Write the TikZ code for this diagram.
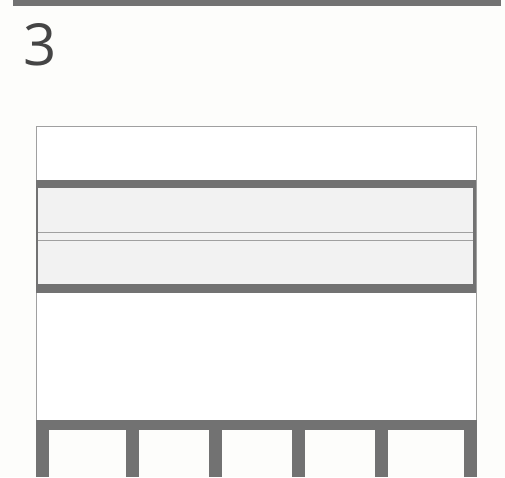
\documentclass[tikz,border=0pt]{standalone}
\usepackage{fontspec}
\setmainfont{Open Sans}
\usepackage{xcolor}
\definecolor{paper}{HTML}{FDFDFB}
\definecolor{beamgray}{HTML}{727272}
\definecolor{panelgray}{HTML}{F2F2F2}
\definecolor{edgegray}{HTML}{A0A0A0}
\definecolor{numgray}{HTML}{454545}

\begin{document}
\begin{tikzpicture}[x=1pt, y=-1pt, beam/.style={fill=beamgray}, thinline/.style={draw=edgegray, line width=1pt}]
  \useasboundingbox (0,0) rectangle (505,477);
  \fill[paper] (0,0) rectangle (505,477);
  % top bar
  \fill[beam] (13,0) rectangle (501,6);
  \node[text=numgray, font=\fontsize{58}{58}\selectfont, inner sep=0pt, anchor=base west] (num) at (23,65) {3};
  % frame
  \fill[white] (36,126) rectangle (476,180);
  \fill[white] (36,293) rectangle (476,420);
  \draw[thinline] (36,420) -- (36,126) -- (476,126) -- (476,420);
  % band
  \fill[panelgray] (36,188) rectangle (476,284);
  \fill[beam] (36,180) rectangle (476,188);
  \fill[beam] (36,284) rectangle (476,293);
  \draw[thinline] (36,232) -- (476,232);
  \draw[thinline] (36,240) -- (476,240);
  \draw[beamgray, line width=2pt] (37,188) -- (37,284);
  \draw[beamgray, line width=3pt] (474.5,188) -- (474.5,284);
  % beam and posts
  \fill[beam] (36,420) rectangle (477,430);
  \foreach \px in {36,126,209,292,375,464}
    \fill[beam] (\px,430) rectangle ++(13,47);
\end{tikzpicture}
\end{document}
